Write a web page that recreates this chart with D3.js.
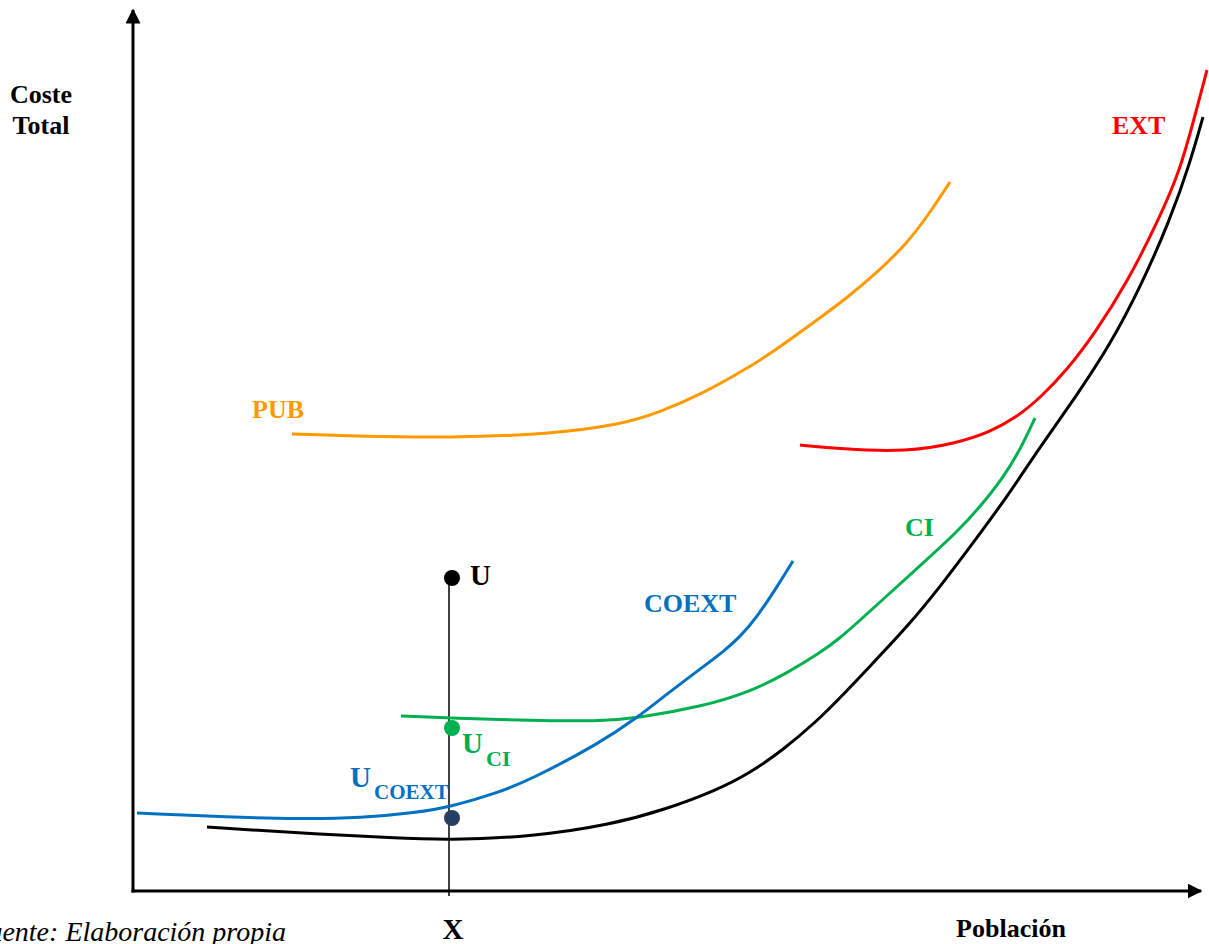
<!DOCTYPE html>
<html>
<head>
<meta charset="utf-8">
<script src="https://cdn.jsdelivr.net/npm/d3@7"></script>
<style>
  body { margin: 0; background: #fff; }
  text { font-family: "Liberation Serif", "Times New Roman", serif; }
</style>
</head>
<body>
<svg id="chart"></svg>
<script>
// curves in chart units: x = poblacion (0-1060), y = coste total (0-860)
var blackX = [74, 164, 264, 314, 397, 477, 534, 584, 617, 650, 684, 707, 740, 774, 807, 840, 874, 907, 942, 977, 1007, 1037, 1057, 1070];
var blackY = [64, 58, 53, 51, 54, 66, 82, 101, 118, 141, 170, 193, 228, 264, 304, 348, 394, 444, 493, 546, 603, 671, 728, 774];

var extX = [667, 707, 774, 824, 857, 884, 907, 934, 962, 994, 1027, 1047, 1060, 1074];
var extY = [446, 442, 439, 448, 459, 474, 493, 521, 558, 608, 674, 721, 768, 821];

var ciX = [268, 317, 417, 467, 505, 567, 617, 654, 687, 707, 724, 757, 790, 824, 847, 870, 887, 902];
var ciY = [175, 173, 170, 170, 173, 184, 199, 218, 238, 253, 268, 298, 328, 359, 384, 413, 441, 473];

var coextX = [4, 97, 164, 230, 280, 317, 364, 397, 467, 505, 534, 567, 590, 607, 624, 644, 660];
var coextY = [78, 74, 72, 73, 78, 84, 98, 111, 148, 174, 197, 222, 239, 254, 274, 304, 330];

var pubX = [159, 217, 317, 417, 487, 527, 567, 617, 647, 680, 714, 747, 774, 794, 817];
var pubY = [457, 455, 453, 457, 466, 479, 496, 524, 544, 568, 593, 621, 648, 674, 709];

// point U and its projections on the curves
var pointX = 319;
var guideX = 316;
var pointNames = ["U", "UCI", "UCOEXT"];
var pointY = [313, 163, 73];
var pointColors = ["#000000", "#00B050", "#243F60"];

var width = 1209, height = 944;
var svg = d3.select("#chart").attr("width", width).attr("height", height);

var ox = 133, oy = 891;
var xScale = d3.scaleLinear().domain([0, 1060]).range([ox, ox + 1060]);
var yScale = d3.scaleLinear().domain([0, 860]).range([oy, oy - 860]);

var defs = svg.append("defs");
defs.append("marker").attr("id", "arrow")
  .attr("viewBox", "0 0 10 10").attr("refX", 9).attr("refY", 5)
  .attr("markerWidth", 5).attr("markerHeight", 5).attr("orient", "auto")
  .attr("markerUnits", "strokeWidth")
  .append("path").attr("d", "M0,0 L10,5 L0,10 z").attr("fill", "#000");

// axes
svg.append("line").attr("x1", ox).attr("y1", oy + 1.5).attr("x2", ox).attr("y2", 10)
  .attr("stroke", "#000").attr("stroke-width", 3).attr("marker-end", "url(#arrow)");
svg.append("line").attr("x1", ox - 1.5).attr("y1", oy).attr("x2", 1201).attr("y2", oy)
  .attr("stroke", "#000").attr("stroke-width", 3).attr("marker-end", "url(#arrow)");

// vertical guide at X
svg.append("line")
  .attr("x1", xScale(guideX)).attr("x2", xScale(guideX))
  .attr("y1", yScale(pointY[0])).attr("y2", oy + 5)
  .attr("stroke", "#000").attr("stroke-width", 1.5);

var line = d3.line()
  .x(function(d) { return xScale(d[0]); })
  .y(function(d) { return yScale(d[1]); })
  .curve(d3.curveBasis);

var curves = [
  { xs: pubX, ys: pubY, color: "#FF9900" },
  { xs: extX, ys: extY, color: "#FF0000" },
  { xs: ciX, ys: ciY, color: "#00B050" },
  { xs: coextX, ys: coextY, color: "#0070C0" },
  { xs: blackX, ys: blackY, color: "#000000" }
];

curves.forEach(function(c) {
  var pts = c.xs.map(function(v, i) { return [v, c.ys[i]]; });
  svg.append("path").datum(pts)
    .attr("d", line)
    .attr("fill", "none")
    .attr("stroke", c.color)
    .attr("stroke-width", 3);
});

svg.selectAll(".dot")
  .data(pointY)
  .enter()
  .append("circle")
  .attr("class", "dot")
  .attr("cx", xScale(pointX))
  .attr("cy", function(d) { return yScale(d); })
  .attr("r", 8)
  .style("fill", function(d, i) { return pointColors[i]; });

function label(x, y, txt, color, size, anchor) {
  return svg.append("text").attr("x", x).attr("y", y)
    .attr("text-anchor", anchor || "start")
    .style("font-weight", "bold").style("font-size", size + "px")
    .style("fill", color).text(txt);
}

label(41, 103, "Coste", "#000", 26, "middle");
label(41, 134, "Total", "#000", 26, "middle");
label(252, 418, "PUB", "#FF9900", 26);
label(1112, 134, "EXT", "#FF0000", 26);
label(905, 536, "CI", "#00B050", 26);
label(644, 612, "COEXT", "#0070C0", 26);
label(470, 585, "U", "#000", 29);

label(462, 753, "U", "#00B050", 29);
label(486, 766, "CI", "#00B050", 22);
label(350, 787, "U", "#0070C0", 29);
label(374, 799, "COEXT", "#0070C0", 21);

label(453, 939, "X", "#000", 29, "middle");
label(1011, 937, "Población", "#000", 26, "middle");

// source note, cut at the left edge as in the original
svg.append("text").attr("x", 286).attr("y", 941)
  .attr("text-anchor", "end")
  .style("font-style", "italic").style("font-size", "28px")
  .text("Fuente: Elaboración propia");
</script>
</body>
</html>
